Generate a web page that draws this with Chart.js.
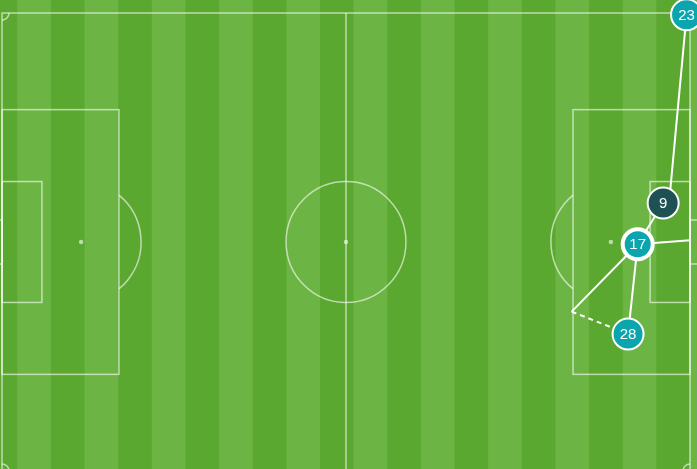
<!DOCTYPE html>
<html>
<head>
<meta charset="utf-8">
<script src="https://cdn.jsdelivr.net/npm/chart.js@4/dist/chart.umd.min.js"></script>
<style>
  html, body { margin: 0; padding: 0; background: #5aa830; }
  #wrap { width: 697px; height: 469px; }
</style>
</head>
<body>
<div id="wrap"><canvas id="campo"></canvas></div>
<script>
// jogadores (coordenadas Opta 0-100)
const jogadores = ['23', '9', '17', '28'];
const jogadorX = [99.5, 96.1, 92.4, 91.0];
const jogadorY = [99.6, 58.5, 49.5, 29.9];

// lances: inicio -> fim
const lanceIniX = [99.5, 96.1, 92.4, 82.8, 91.0, 92.4];
const lanceIniY = [99.6, 58.5, 49.5, 34.8, 29.9, 49.5];
const lanceFimX = [97.0, 92.4, 82.8, 91.0, 92.4, 100.0];
const lanceFimY = [59.2, 49.5, 34.8, 29.9, 49.5, 50.4];
const lanceTipo = ['passe', 'passe', 'passe', 'conducao', 'passe', 'chute'];

const verdeEscuro = '#5aa830';
const verdeClaro = '#6cb544';
const linhaCampo = 'rgba(255,255,255,0.6)';

// desenha o gramado e as linhas do campo
const campoPlugin = {
  id: 'campo',
  beforeDatasetsDraw(chart) {
    const { ctx, scales: { x, y } } = chart;
    const px = v => x.getPixelForValue(v);
    const py = v => y.getPixelForValue(v);
    ctx.save();
    ctx.fillStyle = verdeClaro;
    ctx.fillRect(0, 0, chart.width, chart.height);
    // faixas
    const w = 4.889;
    ctx.fillStyle = verdeEscuro;
    for (let k = -2; k < 24; k += 2) {
      const x1 = px(100 - (k + 1) * w);
      const x2 = px(100 - k * w);
      ctx.fillRect(x1, 0, x2 - x1, chart.height);
    }
    ctx.strokeStyle = linhaCampo;
    ctx.lineWidth = 1.5;
    const rect = (x1, y1, x2, y2) => {
      ctx.strokeRect(px(x1), py(y2), px(x2) - px(x1), py(y1) - py(y2));
    };
    rect(0, 0, 100, 100);
    ctx.beginPath();
    ctx.moveTo(px(50), py(0));
    ctx.lineTo(px(50), py(100));
    ctx.stroke();
    // areas
    rect(0, 21.1, 17, 78.9);
    rect(83, 21.1, 100, 78.9);
    rect(0, 36.8, 5.8, 63.2);
    rect(94.2, 36.8, 100, 63.2);
    // gols
    rect(-2, 45.2, 0, 54.8);
    rect(100, 45.2, 102, 54.8);
    // circulo central
    const rx = px(8.71) - px(0);
    const ry = py(0) - py(13.2);
    ctx.beginPath();
    ctx.ellipse(px(50), py(50), rx, ry, 0, 0, Math.PI * 2);
    ctx.stroke();
    // meias-luas
    const t = Math.acos(5.5 / 8.71);
    ctx.beginPath();
    ctx.ellipse(px(11.5), py(50), rx, ry, 0, -t, t);
    ctx.stroke();
    ctx.beginPath();
    ctx.ellipse(px(88.5), py(50), rx, ry, 0, Math.PI - t, Math.PI + t);
    ctx.stroke();
    // escanteios
    const cantos = [[0, 100, 0], [100, 100, Math.PI / 2], [100, 0, Math.PI], [0, 0, -Math.PI / 2]];
    cantos.forEach(([cx, cy, ang]) => {
      ctx.beginPath();
      ctx.arc(px(cx), py(cy), 7, ang, ang + Math.PI / 2);
      ctx.stroke();
    });
    // marcas
    ctx.fillStyle = linhaCampo;
    [[50, 50], [11.5, 50], [88.5, 50]].forEach(([mx, my]) => {
      ctx.beginPath();
      ctx.arc(px(mx), py(my), 2.2, 0, Math.PI * 2);
      ctx.fill();
    });
    ctx.restore();
  }
};

// numeros dos jogadores
const numerosPlugin = {
  id: 'numeros',
  afterDatasetsDraw(chart) {
    const { ctx } = chart;
    const meta = chart.getDatasetMeta(chart.data.datasets.length - 1);
    ctx.save();
    ctx.fillStyle = '#ffffff';
    ctx.font = '15px "Liberation Sans", Arial, sans-serif';
    ctx.textAlign = 'center';
    ctx.textBaseline = 'middle';
    meta.data.forEach((pt, i) => {
      ctx.fillText(jogadores[i], pt.x, pt.y + 1);
    });
    ctx.restore();
  }
};

const lances = lanceTipo.map((tipo, i) => ({
  type: 'line',
  order: 1,
  data: [{ x: lanceIniX[i], y: lanceIniY[i] }, { x: lanceFimX[i], y: lanceFimY[i] }],
  borderColor: '#ffffff',
  borderWidth: 2,
  borderDash: tipo === 'conducao' ? [5, 4] : [],
  pointRadius: 0,
  fill: false,
  clip: false
}));

const bolinhas = {
  type: 'scatter',
  order: 0,
  data: jogadores.map((j, i) => ({ x: jogadorX[i], y: jogadorY[i] })),
  pointRadius: jogadores.map(j => j === '17' ? 15 : 15.5),
  pointHoverRadius: 15,
  pointBackgroundColor: jogadores.map(j => j === '9' ? '#1e5154' : '#0ba5ad'),
  pointBorderColor: '#ffffff',
  pointBorderWidth: jogadores.map(j => j === '17' ? 4 : 2),
  clip: false
};

new Chart(document.getElementById('campo'), {
  type: 'scatter',
  data: { datasets: [...lances, bolinhas] },
  options: {
    responsive: true,
    maintainAspectRatio: false,
    animation: false,
    layout: { padding: 0, autoPadding: false },
    plugins: { legend: { display: false }, tooltip: { enabled: false } },
    events: [],
    scales: {
      x: { type: 'linear', display: false, min: -0.291, max: 101.02 },
      y: { type: 'linear', display: false, min: 0.437, max: 102.838 }
    }
  },
  plugins: [campoPlugin, numerosPlugin]
});
</script>
</body>
</html>
